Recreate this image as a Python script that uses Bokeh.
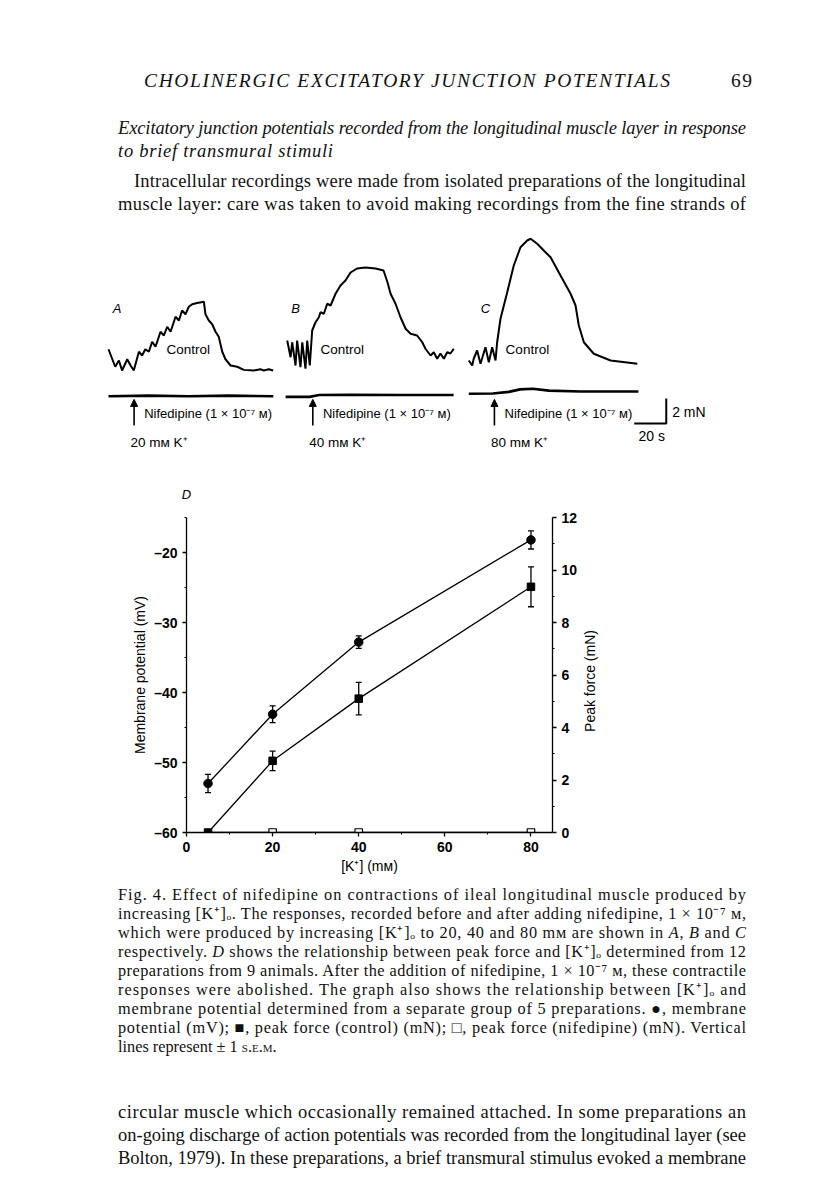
import math
from bokeh.plotting import figure
from bokeh.models import (Range1d, LinearAxis, FixedTicker, ColumnDataSource,
                          Whisker, TeeHead, Arrow, NormalHead, Div)
from bokeh.layouts import column, row
from bokeh.core.properties import value
from bokeh.embed import file_html
from bokeh.resources import INLINE

# ---------------- Panel D data ----------------
k_conc = [5, 20, 40, 80]                       # [K+]o (mM)
membrane_mv = [-53.0, -43.1, -32.8, -18.2]     # membrane potential (mV)
membrane_sem = [1.3, 1.2, 0.9, 1.3]
force_control = [0.0, 2.73, 5.1, 9.36]         # peak force, control (mN)
force_control_sem = [0.0, 0.37, 0.62, 0.76]
force_nif = [0.0, 0.0, 0.0, 0.0]               # peak force, nifedipine (mN)

x_ticks = [0, 20, 40, 60, 80]
mv_ticks = [-60, -50, -40, -30, -20]
force_ticks = [0, 2, 4, 6, 8, 10, 12]

# ---------------- Panels A-C traces (time s, force mN) ----------------
trace_a_t = [0, 4.2, 6.5, 8.5, 11.7, 13.8, 15.8, 19, 21, 23, 25.2, 27.3, 29.4, 32.5, 34.6,
             36.7, 38.8, 41.9, 44, 46, 48.1, 50.2, 52.3, 55.4, 59.6, 60.6, 62.7, 64.8, 66.9,
             68.9, 71.1, 73.1, 76.3, 80.4, 84.6, 90.8, 95, 97, 100.2, 102.9]
trace_a_f = [1.7, 0.3, 0.8, 0.0, 0.9, 0.4, 0.0, 1.5, 1.2, 1.7, 1.5, 2.3, 1.9, 3.1, 2.8,
             3.5, 3.1, 4.3, 4.0, 4.8, 4.5, 5.1, 5.3, 5.4, 5.5, 4.5, 4.0, 3.7, 3.1,
             2.7, 1.5, 0.9, 0.4, 0.3, 0.05, 0.0, 0.1, 0.0, 0.1, 0.0]
trace_b_t = [0, 2.1, 3.1, 5.2, 6.2, 8.3, 9.4, 11.4, 12.5, 14.1, 15.6, 17.7, 19.8, 20.8,
             22.9, 25, 27.1, 30.2, 33.3, 36.4, 39.6, 43.7, 48.9, 55.2, 60.2, 62.7, 64.6,
             67.7, 70.8, 74, 77.1, 81.2, 84.4, 86.4, 89.6, 91.6, 93.7, 95.8, 97.9, 100,
             102, 104.1]
trace_b_f = [2.4, 1.06, 2.26, 0.4, 2.4, 0.26, 2.26, 0.14, 2.4, 0.4, 3.2, 3.86, 4.26, 4.66,
             4.54, 5.34, 5.2, 6.14, 6.8, 7.2, 7.84, 8.16, 8.24, 8.16, 8.0, 7.04, 6.14,
             5.34, 4.26, 3.34, 2.94, 2.8, 2.26, 1.74, 1.2, 1.46, 0.94, 1.36, 0.94, 1.46,
             1.36, 1.74]
trace_c_t = [0, 2.1, 3.1, 5.2, 7.3, 10.4, 12.5, 14.6, 16.7, 17.7, 19.8, 24, 28.1, 32.3,
             36.5, 38.6, 42.75, 47.9, 51.1, 57.3, 63.6, 66.7, 68.75, 71.9, 78.1, 88.6, 105.3]
trace_c_f = [0.8, 0.4, 0.96, 1.6, 0.54, 1.86, 0.66, 1.86, 0.8, 2.26, 4.14, 6.26, 8.4, 9.86,
             10.4, 10.54, 10.14, 9.46, 9.06, 7.6, 6.14, 5.2, 3.6, 2.26, 1.34, 0.8, 0.54]
nif_a_t = [0, 25, 50, 75, 103]
nif_a_f = [0.0, 0.05, 0.0, 0.05, 0.0]
nif_b_t = [-1, 14, 20, 40, 70, 104]
nif_b_f = [-0.05, -0.05, 0.1, 0.12, 0.1, 0.1]
nif_c_t = [0, 15, 25, 32, 40, 50, 70, 106]
nif_c_f = [0.2, 0.22, 0.35, 0.55, 0.6, 0.45, 0.38, 0.38]
k_labels = ["20 mᴍ K⁺", "40 mᴍ K⁺", "80 mᴍ K⁺"]

SANS = "Liberation Sans"
SERIF = "Liberation Serif"

# ---------------- Text block helpers (inline SVG text) ----------------
def tline(x, y, content, length=None, size=18.5, italic=False, weight="normal"):
    st = (f"font-family:'{SERIF}',serif;font-size:{size}px;"
          f"font-style:{'italic' if italic else 'normal'};font-weight:{weight};"
          "letter-spacing:0;word-spacing:0")
    a = f'x="{x}" y="{y}" fill="#111" style="{st}"'
    if length:
        a += f' textLength="{length}" lengthAdjust="spacing"'
    return f'<text {a}>{content}</text>'

def svg_div(w, h, parts):
    inner = "".join(parts)
    return Div(text=f'<svg xmlns="http://www.w3.org/2000/svg" width="{w}" height="{h}" '
                    f'style="display:block">{inner}</svg>',
               width=w, height=h, margin=0)

KO = "[K⁺]ₒ"
IT = lambda s: f'<tspan style="font-style:italic">{s}</tspan>'

TOP_H = 222
top_parts = [
    tline(136, 79, "CHOLINERGIC EXCITATORY JUNCTION POTENTIALS", 526, 19.5, True),
    tline(723, 79, "69", 21, 19.5),
    tline(110, 126, "Excitatory junction potentials recorded from the longitudinal muscle layer in response", 628, 18.5, True),
    tline(110, 149, "to brief transmural stimuli", 215, 18.5, True),
    tline(126, 179, "Intracellular recordings were made from isolated preparations of the longitudinal", 612),
    tline(110, 202, "muscle layer: care was taken to avoid making recordings from the fine strands of", 628),
]
div_top = svg_div(800, TOP_H, top_parts)

cap = 16.3
cap_lines = [
    "Fig. 4. Effect of nifedipine on contractions of ileal longitudinal muscle produced by",
    f"increasing {KO}. The responses, recorded before and after adding nifedipine, 1 × 10⁻⁷ ᴍ,",
    f"which were produced by increasing {KO} to 20, 40 and 80 mᴍ are shown in {IT('A')}, {IT('B')} and {IT('C')}",
    f"respectively. {IT('D')} shows the relationship between peak force and {KO} determined from 12",
    "preparations from 9 animals. After the addition of nifedipine, 1 × 10⁻⁷ ᴍ, these contractile",
    f"responses were abolished. The graph also shows the relationship between {KO} and",
    "membrane potential determined from a separate group of 5 preparations. ●, membrane",
    "potential (mV); ■, peak force (control) (mN); □, peak force (nifedipine) (mN). Vertical",
]
bot_parts = [tline(110, 20 + 19 * i, s, 628, cap) for i, s in enumerate(cap_lines)]
bot_parts.append(tline(110, 20 + 19 * 8,
                       'lines represent ± 1 <tspan style="font-variant:small-caps">s.e.m.</tspan>',
                       None, cap))
bot_parts += [
    tline(110, 238, "circular muscle which occasionally remained attached. In some preparations an", 628),
    tline(110, 261, "on-going discharge of action potentials was recorded from the longitudinal layer (see", 628),
    tline(110, 284, "Bolton, 1979). In these preparations, a brief transmural stimulus evoked a membrane", 628),
]
div_bot = svg_div(800, 312, bot_parts)

# ---------------- Traces figure (A, B, C) ----------------
tr = figure(width=800, height=275, x_range=Range1d(0, 500), y_range=Range1d(-10.8, 11.2),
            output_backend="svg", toolbar_location=None, x_axis_location=None,
            y_axis_location=None, min_border=0, outline_line_color=None, margin=0)
tr.grid.visible = False
tr.background_fill_color = "white"

OFFS = [62.5, 174.2, 287.7]       # panel start times on the shared time axis (layout)
NIF_Y0 = -2.06                    # vertical offset of nifedipine traces (layout)
STIM_T = 16                       # stimulus arrow time after panel start
ctrl = [(trace_a_t, trace_a_f), (trace_b_t, trace_b_f), (trace_c_t, trace_c_f)]
nifs = [(nif_a_t, nif_a_f), (nif_b_t, nif_b_f), (nif_c_t, nif_c_f)]
ctrl_label_dx = [36.25, 20.8, 23.0]
letter_dx = [5.4, 5.2, 10.4]

for i, off in enumerate(OFFS):
    t, f = ctrl[i]
    tr.line([v + off for v in t], f, line_color="black", line_width=2.0)
    nt, nf = nifs[i]
    tr.line([v + off for v in nt], [v + NIF_Y0 for v in nf], line_color="black", line_width=2.6)
    tr.add_layout(Arrow(end=NormalHead(size=7, fill_color="black", line_color="black"),
                        x_start=off + STIM_T, y_start=-4.4, x_end=off + STIM_T, y_end=NIF_Y0 - 0.25,
                        line_width=1.6, line_color="black"))
    tr.text(x=[off + STIM_T + 6.3], y=[-3.44], text=["Nifedipine (1 × 10⁻⁷ ᴍ)"],
            text_font=value(SANS), text_font_size="13px", text_baseline="middle",
            text_align="left", text_color="black")
    tr.text(x=[off + 13.8], y=[-5.74], text=[k_labels[i]], text_font=value(SANS),
            text_font_size="13.5px", text_baseline="middle", text_align="left",
            text_color="black")
    tr.text(x=[off + ctrl_label_dx[i]], y=[1.66], text=["Control"], text_font=value(SANS),
            text_font_size="13.5px", text_baseline="middle", text_align="left",
            text_color="black")
    tr.text(x=[off + letter_dx[i]], y=[5.0], text=["ABC"[i]], text_font=value(SANS),
            text_font_size="13px", text_font_style="italic", text_baseline="middle",
            text_align="center", text_color="black")

# scale bars (20 s, 2 mN)
SB_X, SB_Y = 411.1, -4.24
tr.line([SB_X - 20, SB_X, SB_X], [SB_Y, SB_Y, SB_Y + 2], line_color="black", line_width=2)
tr.text(x=[SB_X + 3.7], y=[-3.28], text=["2 mN"], text_font=value(SANS), text_font_size="14px",
        text_baseline="middle", text_align="left", text_color="black")
tr.text(x=[SB_X - 17.4], y=[-5.2], text=["20 s"], text_font=value(SANS), text_font_size="14px",
        text_baseline="middle", text_align="left", text_color="black")
# panel D letter
tr.text(x=[111.25], y=[-9.92], text=["D"], text_font=value(SANS), text_font_size="13px",
        text_font_style="italic", text_baseline="middle", text_align="center", text_color="black")

# ---------------- Panel D figure ----------------
P_W = 572
p = figure(width=P_W, height=375, x_range=Range1d(0, 85), y_range=Range1d(-60, -15),
           output_backend="svg", toolbar_location=None, min_border_left=178,
           min_border_right=28, min_border_top=12, min_border_bottom=48,
           outline_line_color=None, margin=0)
p.grid.visible = False
p.extra_y_ranges = {"force": Range1d(0, 12)}

def style_axis(ax):
    ax.axis_line_color = "black"
    ax.axis_line_width = 1.3
    ax.major_tick_line_color = "black"
    ax.minor_tick_line_color = "black"
    ax.major_tick_line_width = 1.3
    ax.minor_tick_line_width = 1.1
    ax.major_tick_in = 0
    ax.major_tick_out = 4
    ax.minor_tick_in = 0
    ax.minor_tick_out = 2
    ax.major_label_text_font = SANS
    ax.major_label_text_font_size = "14px"
    ax.major_label_text_font_style = "bold"
    ax.major_label_text_color = "black"
    ax.axis_label_text_font = SANS
    ax.axis_label_text_font_size = "14px"
    ax.axis_label_text_font_style = "normal"
    ax.axis_label_text_color = "black"
    ax.axis_label_standoff = 3

xa = p.xaxis[0]
style_axis(xa)
xa.ticker = FixedTicker(ticks=x_ticks, minor_ticks=[10, 30, 50, 70])
xa.axis_label = "[K⁺] (mᴍ)"

ya = p.yaxis[0]
style_axis(ya)
ya.ticker = FixedTicker(ticks=mv_ticks, minor_ticks=[-55, -45, -35, -25, -15])
ya.major_label_overrides = {v: "–" + str(abs(v)) for v in mv_ticks}
ya.axis_label = "Membrane potential (mV)"

ra = LinearAxis(y_range_name="force")
style_axis(ra)
ra.ticker = FixedTicker(ticks=force_ticks, minor_ticks=[1, 3, 5, 7, 9, 11])
p.add_layout(ra, "right")

# right-axis title (reads bottom-to-top), placed just beside the right axis
div_right = svg_div(800 - P_W, 375, [
    f'<text transform="translate(10,176) rotate(-90)" text-anchor="middle" '
    f'dominant-baseline="central" fill="black" '
    f'style="font-family:\'{SANS}\',sans-serif;font-size:14px">Peak force (mN)</text>'])

# membrane potential (left axis)
p.line(k_conc, membrane_mv, line_color="black", line_width=1.3)
mv_src = ColumnDataSource(dict(x=k_conc,
                               lo=[m - s for m, s in zip(membrane_mv, membrane_sem)],
                               hi=[m + s for m, s in zip(membrane_mv, membrane_sem)]))
p.add_layout(Whisker(source=mv_src, base="x", lower="lo", upper="hi", dimension="height",
                     line_width=1.3, line_color="black",
                     lower_head=TeeHead(size=6, line_width=1.3),
                     upper_head=TeeHead(size=6, line_width=1.3)))
p.scatter(k_conc, membrane_mv, marker="circle", size=8.5, fill_color="black", line_color="black")

# peak force (right axis)
p.line(k_conc, force_nif, line_color="black", line_width=1.3, y_range_name="force")
p.line(k_conc, force_control, line_color="black", line_width=1.3, y_range_name="force")
idx = [i for i, s in enumerate(force_control_sem) if s > 0]
fc_src = ColumnDataSource(dict(x=[k_conc[i] for i in idx],
                               lo=[force_control[i] - force_control_sem[i] for i in idx],
                               hi=[force_control[i] + force_control_sem[i] for i in idx]))
p.add_layout(Whisker(source=fc_src, base="x", lower="lo", upper="hi", dimension="height",
                     line_width=1.3, line_color="black", y_range_name="force",
                     lower_head=TeeHead(size=6, line_width=1.3),
                     upper_head=TeeHead(size=6, line_width=1.3)))
p.scatter(k_conc[1:], force_nif[1:], marker="square", size=7.5, fill_color="white",
          line_color="black", line_width=1.2, y_range_name="force")
p.scatter(k_conc, force_control, marker="square", size=7.5, fill_color="black",
          line_color="black", y_range_name="force")

layout = column(div_top, row(tr, margin=0), row(p, div_right, margin=0, spacing=0), div_bot,
                spacing=0, margin=(8, 8, 8, 8))
open("out.html", "w").write(file_html(layout, INLINE))
